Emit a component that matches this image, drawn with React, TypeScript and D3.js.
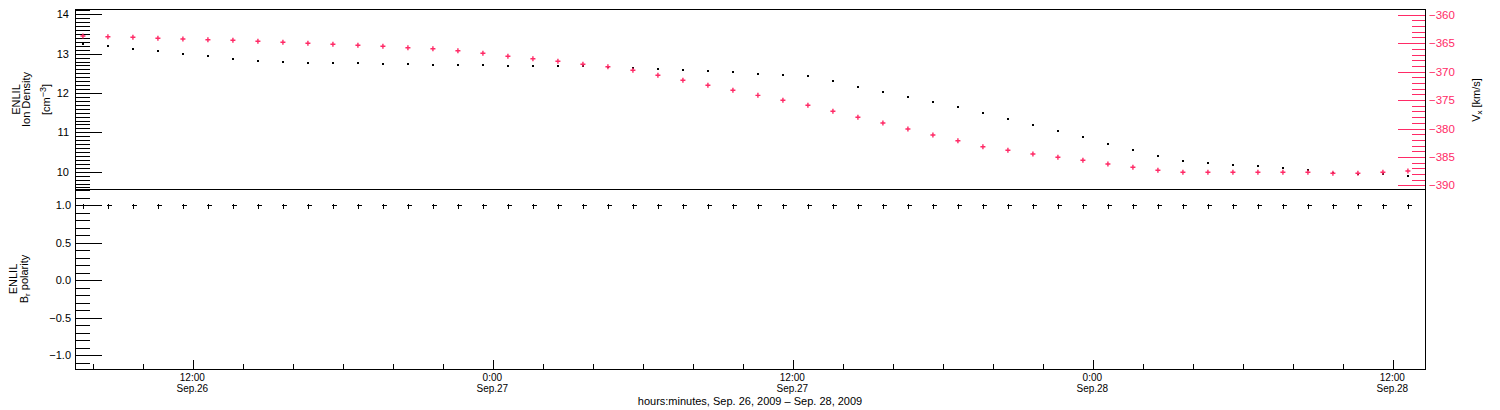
import React from 'react';
import * as d3 from 'd3';

// ---------- data ----------
const startTime = new Date(Date.UTC(2009, 8, 26, 7, 35));
const nPoints = 54;
const times = d3.range(nPoints).map((i) => d3.utcHour.offset(startTime, i));

const density = [13.25, 13.2, 13.13, 13.07, 13.0, 12.95, 12.87, 12.82, 12.8, 12.77, 12.77, 12.75, 12.74, 12.74,
  12.72, 12.72, 12.7, 12.69, 12.69, 12.69, 12.68, 12.67, 12.64, 12.62, 12.59, 12.57, 12.53, 12.49, 12.47, 12.44,
  12.3, 12.16, 12.03, 11.91, 11.78, 11.64, 11.5, 11.35, 11.19, 11.04, 10.87, 10.71, 10.56, 10.41, 10.28, 10.23,
  10.18, 10.14, 10.09, 10.04, 9.97, 9.95, 9.93, 9.9];

const vx = [-363.74, -363.87, -363.97, -364.15, -364.27, -364.39, -364.5, -364.67, -364.85, -365.03, -365.2,
  -365.38, -365.55, -365.8, -365.98, -366.33, -366.78, -367.31, -367.73, -368.19, -368.72, -369.14, -369.77,
  -370.65, -371.53, -372.41, -373.29, -374.17, -375.04, -375.92, -376.98, -378.03, -379.03, -380.09, -381.14,
  -382.14, -383.2, -383.83, -384.48, -385.06, -385.59, -386.24, -386.82, -387.35, -387.7, -387.7, -387.7, -387.7,
  -387.7, -387.7, -387.87, -387.87, -387.7, -387.47];

const polarity = [1, 1, 1, 1, 1, 1, 1, 1, 1, 1, 1, 1, 1, 1, 1, 1, 1, 1, 1, 1, 1, 1, 1, 1, 1, 1, 1,
  1, 1, 1, 1, 1, 1, 1, 1, 1, 1, 1, 1, 1, 1, 1, 1, 1, 1, 1, 1, 1, 1, 1, 1, 1, 1, 1];

const densityTicks = [10, 11, 12, 13, 14];
const vxTicks = [-360, -365, -370, -375, -380, -385, -390];
const polTicks = [1, 0.5, 0, -0.5, -1];
const polTickLabels = ['1.0', '0.5', '0.0', '\u22120.5', '\u22121.0'];

const xTickTimes = ['2009-09-26T12:00Z', '2009-09-27T00:00Z', '2009-09-27T12:00Z', '2009-09-28T00:00Z', '2009-09-28T12:00Z'];
const xTickLine1 = ['12:00', '0:00', '12:00', '0:00', '12:00'];
const xTickLine2 = ['Sep.26', 'Sep.27', 'Sep.27', 'Sep.28', 'Sep.28'];
const xTitle = 'hours:minutes, Sep. 26, 2009 \u2013 Sep. 28, 2009';

const PINK = '#ff2a66';
const FONT = '"Liberation Sans", Arial, sans-serif';

export default function App() {
  const L = 75, R = 1425, T1 = 9.5, B1 = 189, B2 = 369;

  const x = d3.scaleUtc()
    .domain([new Date(Date.UTC(2009, 8, 26, 7, 16)), new Date(Date.UTC(2009, 8, 28, 13, 16))])
    .range([L, R]);
  const yDen = d3.scaleLinear().domain([10, 14]).range([171.7, 14.3]);
  const yVx = d3.scaleLinear().domain([-390, -360]).range([185.4, 14.7]);
  const yPol = d3.scaleLinear().domain([-1, 1]).range([355, 205]);

  const denMinor = d3.range(96, 142).map((v) => v / 10).filter((v) => yDen(v) <= B1 && yDen(v) >= T1);
  const vxMinor = d3.range(-391, -358).filter((v) => yVx(v) <= B1 && yVx(v) >= T1);
  const polMinor = d3.range(-12, 13).map((v) => v / 10).filter((v) => yPol(v) <= B2 && yPol(v) >= B1);
  const xMinor = d3.utcHour.every(2)!.range(x.domain()[0], x.domain()[1]);
  const xMajor = xTickTimes.map((s) => new Date(s));

  const r = (v: number) => Math.round(v) + 0.5;

  return (
    <svg width={1500} height={410} style={{ position: 'absolute', left: 0, top: 0, display: 'block', background: '#fff' }}
      fontFamily={FONT}>
      <rect x={0} y={0} width={1500} height={410} fill="#fff" />
      {/* frames */}
      <g stroke="#000" strokeWidth={1} fill="none" shapeRendering="crispEdges">
        <path d={`M${L + 0.5},${T1}H${R + 0.5}V${B2 + 0.5}H${L + 0.5}Z`} />
        <path d={`M${L},${B1 + 0.5}H${R + 0.5}`} />
      </g>

      {/* top panel left axis ticks */}
      <g stroke="#000" strokeWidth={1} shapeRendering="crispEdges">
        {denMinor.map((v, i) => (
          <line key={'dm' + i} x1={L} x2={L + 15} y1={r(yDen(v))} y2={r(yDen(v))} />
        ))}
        {densityTicks.map((v) => (
          <line key={'dM' + v} x1={L} x2={L + 27} y1={r(yDen(v))} y2={r(yDen(v))} />
        ))}
      </g>
      <g fontSize={11} textAnchor="end" fill="#000">
        {densityTicks.map((v) => (
          <text key={'dl' + v} x={69} y={yDen(v) + 4}>{v}</text>
        ))}
      </g>

      {/* top panel right axis (Vx) */}
      <g stroke={PINK} strokeWidth={1} shapeRendering="crispEdges">
        {vxMinor.map((v) => (
          <line key={'vm' + v} x1={R - 13} x2={R} y1={r(yVx(v))} y2={r(yVx(v))} />
        ))}
        {vxTicks.map((v) => (
          <line key={'vM' + v} x1={R - 27} x2={R} y1={r(yVx(v))} y2={r(yVx(v))} />
        ))}
      </g>
      <g fontSize={11.5} textAnchor="start" fill={PINK}>
        {vxTicks.map((v) => (
          <text key={'vl' + v} x={1429} y={yVx(v) + 4}>{'\u2212' + Math.abs(v)}</text>
        ))}
      </g>

      {/* bottom panel left axis */}
      <g stroke="#000" strokeWidth={1} shapeRendering="crispEdges">
        {polMinor.map((v, i) => (
          <line key={'pm' + i} x1={L} x2={L + 15} y1={r(yPol(v))} y2={r(yPol(v))} />
        ))}
        {polTicks.map((v) => (
          <line key={'pM' + v} x1={L} x2={L + 27} y1={r(yPol(v))} y2={r(yPol(v))} />
        ))}
      </g>
      <g fontSize={11} textAnchor="end" fill="#000">
        {polTicks.map((v, i) => (
          <text key={'pl' + v} x={71} y={yPol(v) + 4}>{polTickLabels[i]}</text>
        ))}
      </g>

      {/* x axis ticks */}
      <g stroke="#000" strokeWidth={1} shapeRendering="crispEdges">
        {xMinor.map((t, i) => (
          <line key={'xm' + i} x1={r(x(t))} x2={r(x(t))} y1={B2 - 5} y2={B2} />
        ))}
        {xMajor.map((t, i) => (
          <line key={'xM' + i} x1={r(x(t))} x2={r(x(t))} y1={B2 - 9} y2={B2} />
        ))}
      </g>
      <g fontSize={10} textAnchor="middle" fill="#000">
        {xMajor.map((t, i) => (
          <g key={'xl' + i}>
            <text x={x(t) - 1} y={380.5}>{xTickLine1[i]}</text>
            <text x={x(t) - 1} y={392}>{xTickLine2[i]}</text>
          </g>
        ))}
      </g>
      <text x={750} y={404.5} fontSize={11} textAnchor="middle" fill="#000">{xTitle}</text>

      {/* axis titles */}
      <g fontSize={11} textAnchor="middle" fill="#000">
        <text transform="translate(19.5,99.5) rotate(-90)">ENLIL</text>
        <text transform="translate(30,99.5) rotate(-90)">Ion Density</text>
        <text transform="translate(50,99.5) rotate(-90)">
          [cm<tspan dy={-4} fontSize={9}>{'\u22123'}</tspan><tspan dy={4}>]</tspan>
        </text>
        <text transform="translate(17,279) rotate(-90)">ENLIL</text>
        <text transform="translate(28,279) rotate(-90)">
          B<tspan dy={2} fontSize={8}>r</tspan><tspan dy={-2}> polarity</tspan>
        </text>
        <text transform="translate(1480,100) rotate(-90)">
          V<tspan dy={2} fontSize={8}>x</tspan><tspan dy={-2}> [km/s]</tspan>
        </text>
      </g>

      {/* data: density dots */}
      <g fill="#000" shapeRendering="crispEdges">
        {density.map((v, i) => (
          <rect key={'d' + i} x={Math.round(x(times[i])) - 1} y={Math.round(yDen(v)) - 1} width={2} height={2} />
        ))}
      </g>
      {/* data: vx pluses */}
      <g stroke={PINK} strokeWidth={1.4}>
        {vx.map((v, i) => {
          const cx = x(times[i]);
          const cy = yVx(v);
          return <path key={'v' + i} d={`M${cx - 2.5},${cy}H${cx + 2.5}M${cx},${cy - 2.5}V${cy + 2.5}`} />;
        })}
      </g>
      {/* data: polarity pluses */}
      <g stroke="#000" strokeWidth={1} shapeRendering="crispEdges">
        {polarity.map((v, i) => {
          const cx = r(x(times[i]));
          const cy = r(yPol(v));
          return <path key={'p' + i} d={`M${cx - 2},${cy}H${cx + 3}M${cx},${cy - 2}V${cy + 3}`} />;
        })}
      </g>
    </svg>
  );
}
